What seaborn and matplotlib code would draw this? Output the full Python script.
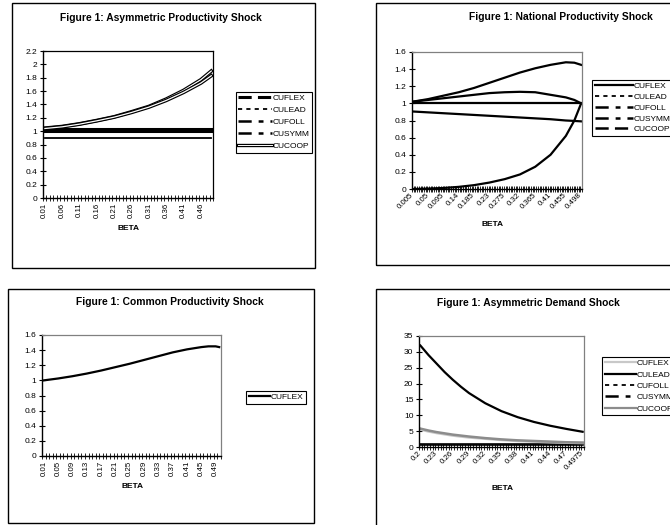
import numpy as np
import matplotlib
matplotlib.use("Agg")
import matplotlib.pyplot as plt
import seaborn as sns
from matplotlib.lines import Line2D
from matplotlib.patches import Rectangle
from matplotlib.legend_handler import HandlerTuple
from matplotlib.ticker import FixedLocator, FuncFormatter, MultipleLocator

plt.rcParams['font.family'] = ['Liberation Sans', 'DejaVu Sans']
plt.rcParams['lines.scale_dashes'] = False

# ---------------- data ----------------
# Panel 1: Asymmetric Productivity Shock
p1_categories = [round(0.01 * k, 2) for k in range(1, 50)]
p1_beta = [0.01, 0.06, 0.11, 0.16, 0.21, 0.26, 0.31, 0.36, 0.41, 0.46, 0.49]
p1_cuflex = [1.03, 1.03, 1.03, 1.03, 1.03, 1.03, 1.03, 1.03, 1.03, 1.03, 1.03]
p1_culead = [1.00, 1.00, 1.00, 1.00, 1.00, 1.00, 1.00, 1.00, 1.00, 1.00, 1.00]
p1_cufoll = [0.90, 0.90, 0.90, 0.90, 0.90, 0.90, 0.90, 0.90, 0.90, 0.90, 0.90]
p1_cusymm = [1.045, 1.07, 1.11, 1.16, 1.215, 1.29, 1.37, 1.48, 1.61, 1.77, 1.90]
p1_cucoop = [1.04, 1.065, 1.105, 1.155, 1.21, 1.28, 1.36, 1.46, 1.58, 1.72, 1.83]

# Panel 2: National Productivity Shock
p2_categories = [round(0.005 * k, 3) for k in range(1, 100)] + [0.498]
p2_beta = [0.005, 0.05, 0.095, 0.14, 0.185, 0.23, 0.275, 0.32, 0.365, 0.41, 0.455, 0.48, 0.498]
p2_cuflex = [1.02, 1.05, 1.09, 1.13, 1.18, 1.24, 1.30, 1.36, 1.41, 1.45, 1.48, 1.475, 1.45]
p2_culead = [0.905, 0.895, 0.885, 0.875, 0.865, 0.855, 0.845, 0.835, 0.825, 0.815, 0.80, 0.795, 0.79]
p2_cufoll = [0.0, 0.005, 0.012, 0.025, 0.045, 0.075, 0.115, 0.17, 0.26, 0.40, 0.62, 0.80, 1.0]
p2_cusymm = [1.0, 1.0, 1.0, 1.0, 1.0, 1.0, 1.0, 1.0, 1.0, 1.0, 1.0, 1.0, 1.0]
p2_cucoop = [1.02, 1.04, 1.06, 1.08, 1.10, 1.12, 1.13, 1.135, 1.13, 1.10, 1.07, 1.04, 1.0]

# Panel 3: Common Productivity Shock
p3_categories = [round(0.01 * k, 2) for k in range(1, 51)]
p3_beta = [0.01, 0.05, 0.09, 0.13, 0.17, 0.21, 0.25, 0.29, 0.33, 0.37, 0.41, 0.45, 0.47, 0.49, 0.50]
p3_cuflex = [1.0, 1.025, 1.055, 1.09, 1.13, 1.175, 1.22, 1.27, 1.32, 1.37, 1.41, 1.44, 1.45, 1.45, 1.44]

# Panel 4: Asymmetric Demand Shock
p4_categories = [round(0.2 + 0.005 * k, 3) for k in range(0, 60)] + [0.4975]
p4_beta = [0.2, 0.215, 0.23, 0.245, 0.26, 0.275, 0.29, 0.32, 0.35, 0.38, 0.41, 0.44, 0.47, 0.4975]
p4_cuflex = [5.5, 4.9, 4.4, 4.0, 3.6, 3.3, 3.0, 2.6, 2.2, 1.9, 1.7, 1.5, 1.35, 1.25]
p4_culead = [32.0, 29.0, 26.3, 23.6, 21.2, 19.0, 17.0, 13.8, 11.3, 9.4, 7.9, 6.7, 5.7, 4.8]
p4_cufoll = [1.0, 1.0, 1.0, 1.0, 1.0, 1.0, 1.0, 1.0, 1.0, 1.0, 1.0, 1.0, 1.0, 1.0]
p4_cusymm = [0.5, 0.5, 0.5, 0.5, 0.5, 0.5, 0.5, 0.5, 0.5, 0.5, 0.5, 0.5, 0.5, 0.5]
p4_cucoop = [5.8, 5.2, 4.7, 4.3, 3.9, 3.6, 3.3, 2.8, 2.4, 2.1, 1.9, 1.7, 1.5, 1.4]

titles = ["Figure 1: Asymmetric Productivity Shock",
          "Figure 1: National Productivity Shock",
          "Figure 1: Common Productivity Shock",
          "Figure 1: Asymmetric Demand Shock"]
series_names = ["CUFLEX", "CULEAD", "CUFOLL", "CUSYMM", "CUCOOP"]

# ---------------- figure ----------------
W, H = 670, 525
fig = plt.figure(figsize=(W / 100, H / 100), dpi=100)
fig.patch.set_facecolor('white')

FS = 6.0
XFS = 5.7
TFS = 7.4


def px_axes(l, t, r, b):
    return fig.add_axes([l / W, 1 - b / H, (r - l) / W, (b - t) / H])


def frame(l, t, r, b):
    fig.add_artist(Rectangle((l / W, 1 - b / H), (r - l) / W, (b - t) / H,
                             transform=fig.transFigure, fill=False,
                             lw=1.0, ec='black', clip_on=False))


def ftext(x, y, s, **kw):
    fig.text(x / W, 1 - y / H, s, ha='center', va='center', **kw)


def setup(ax, cats, every, rot, ymax, ystep, spine_col):
    n = len(cats)
    ax.set_xlim(-0.5, n - 0.5)
    ax.set_ylim(0, ymax)
    major = list(range(0, n, every))
    ax.xaxis.set_major_locator(FixedLocator(major))
    labels = [f"{cats[i]:g}" for i in major]
    if rot == 90:
        ax.set_xticklabels(labels, rotation=90, ha='center', va='top')
    else:
        ax.set_xticklabels(labels, rotation=45, ha='right', va='center',
                           rotation_mode='anchor')
    ax.xaxis.set_minor_locator(FixedLocator(np.arange(-0.5, n, 1.0)))
    ax.tick_params(axis='x', which='major', length=0, pad=3.5, labelsize=XFS,
                   bottom=True)
    ax.tick_params(axis='x', which='minor', direction='inout', length=4.5,
                   width=0.6, color='black', bottom=True)
    ax.yaxis.set_major_locator(MultipleLocator(ystep))
    ax.yaxis.set_major_formatter(FuncFormatter(lambda v, p: f"{round(v, 3):g}"))
    ax.tick_params(axis='y', direction='inout', length=5, width=0.8,
                   labelsize=FS, pad=1.5, left=True, color='black')
    ax.set_xlabel("")
    ax.set_ylabel("")
    for s in ['left', 'bottom']:
        ax.spines[s].set_color('black')
        ax.spines[s].set_linewidth(1.0)
    for s in ['top', 'right']:
        ax.spines[s].set_color(spine_col)
        ax.spines[s].set_linewidth(0.9)
    ax.set_facecolor('white')
    ax.grid(False)


def draw(ax, cats, betas, vals, **kw):
    idx = {round(c, 4): i for i, c in enumerate(cats)}
    xs = [idx[round(b, 4)] for b in betas]
    sns.lineplot(x=xs, y=vals, ax=ax, legend=False, **kw)


def legend(x, y, handles, labelspacing=0.42, handlelength=4.0):
    lg = fig.legend(handles, series_names[:len(handles)], loc='upper left',
                    bbox_to_anchor=(x / W, 1 - y / H),
                    bbox_transform=fig.transFigure,
                    frameon=True, fancybox=False, edgecolor='black',
                    framealpha=1, borderpad=0.3, labelspacing=labelspacing,
                    handlelength=handlelength, handletextpad=0.05,
                    borderaxespad=0, fontsize=FS,
                    handler_map={tuple: HandlerTuple(ndivide=1, pad=0)})
    lg.get_frame().set_linewidth(0.8)
    return lg


LONG = (0, (9.5, 4.5))
SHORT = (0, (3, 3))
LONGSHORT = (0, (9.5, 5, 3.5, 5))

# ---------------- panel 1 ----------------
frame(12, 3, 315, 268)
ax1 = px_axes(43, 51, 213, 198)
draw(ax1, p1_categories, p1_beta, p1_cuflex, color='black', linewidth=2.2)
draw(ax1, p1_categories, p1_beta, p1_culead, color='black', linewidth=2.2)
draw(ax1, p1_categories, p1_beta, p1_cufoll, color='black', linewidth=1.3)
for vals in (p1_cusymm, p1_cucoop):
    draw(ax1, p1_categories, p1_beta, vals, color='black', linewidth=2.6)
    draw(ax1, p1_categories, p1_beta, vals, color='white', linewidth=0.9)
setup(ax1, p1_categories, 5, 90, 2.2, 0.2, 'black')
ftext(161, 18, titles[0], fontsize=TFS, fontweight='bold')
ftext(128, 228, "BETA", fontsize=FS, fontweight='bold')
h1 = [Line2D([], [], color='black', lw=2.2, linestyle=LONG),
      Line2D([], [], color='black', lw=1.3, linestyle=SHORT),
      Line2D([], [], color='black', lw=1.8, linestyle=LONGSHORT),
      Line2D([], [], color='black', lw=1.8, linestyle=LONGSHORT),
      (Line2D([], [], color='black', lw=2.4), Line2D([], [], color='white', lw=0.7))]
legend(236, 92, h1, labelspacing=0.5, handlelength=4.0)

# ---------------- panel 2 ----------------
frame(376, 3, 720, 265)
ax2 = px_axes(412, 52, 582, 189)
for vals in (p2_cuflex, p2_culead, p2_cufoll, p2_cusymm, p2_cucoop):
    draw(ax2, p2_categories, p2_beta, vals, color='black', linewidth=1.6)
setup(ax2, p2_categories, 9, 45, 1.6, 0.2, '#808080')
ftext(561, 17, titles[1], fontsize=TFS, fontweight='bold')
ftext(492, 225, "BETA", fontsize=FS, fontweight='bold')
h2 = [Line2D([], [], color='black', lw=1.6),
      Line2D([], [], color='black', lw=1.3, linestyle=SHORT),
      Line2D([], [], color='black', lw=1.8, linestyle=LONGSHORT),
      Line2D([], [], color='black', lw=1.8, linestyle=LONGSHORT),
      Line2D([], [], color='black', lw=1.8, linestyle=LONG)]
legend(592, 80, h2, labelspacing=0.35, handlelength=4.6)

# ---------------- panel 3 ----------------
frame(8, 289, 314, 523)
ax3 = px_axes(42, 335, 221, 456)
draw(ax3, p3_categories, p3_beta, p3_cuflex, color='black', linewidth=1.6)
setup(ax3, p3_categories, 4, 90, 1.6, 0.2, '#808080')
ftext(170, 302, titles[2], fontsize=TFS, fontweight='bold')
ftext(132, 486, "BETA", fontsize=FS, fontweight='bold')
h3 = [Line2D([], [], color='black', lw=1.6)]
legend(246, 391, h3, handlelength=2.6)

# ---------------- panel 4 ----------------
frame(376, 289, 720, 560)
ax4 = px_axes(419, 336, 584, 447)
draw(ax4, p4_categories, p4_beta, p4_cufoll, color='black', linewidth=1.2)
draw(ax4, p4_categories, p4_beta, p4_cusymm, color='black', linewidth=1.2)
draw(ax4, p4_categories, p4_beta, p4_cuflex, color='#c8c8c8', linewidth=1.8)
draw(ax4, p4_categories, p4_beta, p4_cucoop, color='#8c8c8c', linewidth=1.8)
draw(ax4, p4_categories, p4_beta, p4_culead, color='black', linewidth=1.6)
setup(ax4, p4_categories, 6, 45, 35, 5, '#808080')
ftext(528, 303, titles[3], fontsize=TFS, fontweight='bold')
ftext(502, 488, "BETA", fontsize=FS, fontweight='bold')
h4 = [Line2D([], [], color='#c8c8c8', lw=1.6),
      Line2D([], [], color='black', lw=1.6),
      Line2D([], [], color='black', lw=1.3, linestyle=SHORT),
      Line2D([], [], color='black', lw=1.8, linestyle=LONGSHORT),
      Line2D([], [], color='#8c8c8c', lw=1.6)]
legend(602, 357, h4, labelspacing=0.42, handlelength=3.8)

fig.savefig("out.png", dpi=100, facecolor='white')
